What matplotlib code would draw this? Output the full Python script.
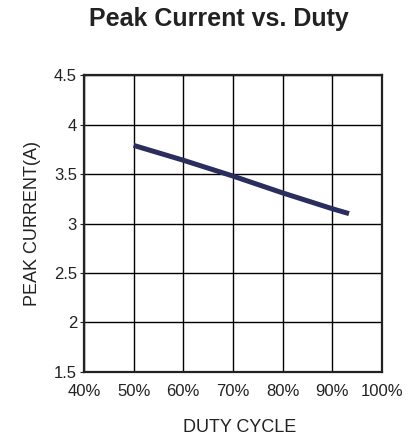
import matplotlib.pyplot as plt
from matplotlib.ticker import MultipleLocator, FuncFormatter

plt.rcParams['font.family'] = ['Liberation Sans', 'DejaVu Sans']

duty = [50, 60, 70, 80, 90, 93.4]
peak_current = [3.79, 3.64, 3.48, 3.31, 3.15, 3.10]

fig = plt.figure(figsize=(4.2, 4.37), dpi=100)
ax = fig.add_axes([0.2, 0.149, 0.709, 0.679])

ax.plot(duty, peak_current, color="#2b2d5e", lw=3.6, solid_capstyle="butt", zorder=3)

ax.set_xlim(40, 100)
ax.set_ylim(1.5, 4.5)
ax.xaxis.set_major_locator(MultipleLocator(10))
ax.yaxis.set_major_locator(MultipleLocator(0.5))
ax.xaxis.set_major_formatter(FuncFormatter(lambda v, p: f"{v:.0f}%"))
ax.yaxis.set_major_formatter(FuncFormatter(lambda v, p: f"{v:g}"))
ax.grid(color="black", lw=1.0)
for s in ax.spines.values():
    s.set_linewidth(1.6)
    s.set_color("#222222")
ax.tick_params(axis="x", length=0, pad=9, labelsize=12, colors="#222222")
ax.tick_params(axis="y", length=3, pad=2, labelsize=12, colors="#222222")

ax.set_xlabel("DUTY CYCLE", fontsize=13, color="#222222", labelpad=14)
ax.xaxis.label.set_x(0.523)
ax.set_ylabel("PEAK CURRENT(A)", fontsize=13, color="#222222", labelpad=9)
fig.text(0.522, 0.957, "Peak Current vs. Duty", ha="center", va="center",
         fontsize=18, fontweight="bold", color="#222222")

fig.savefig("out.png", dpi=100)
